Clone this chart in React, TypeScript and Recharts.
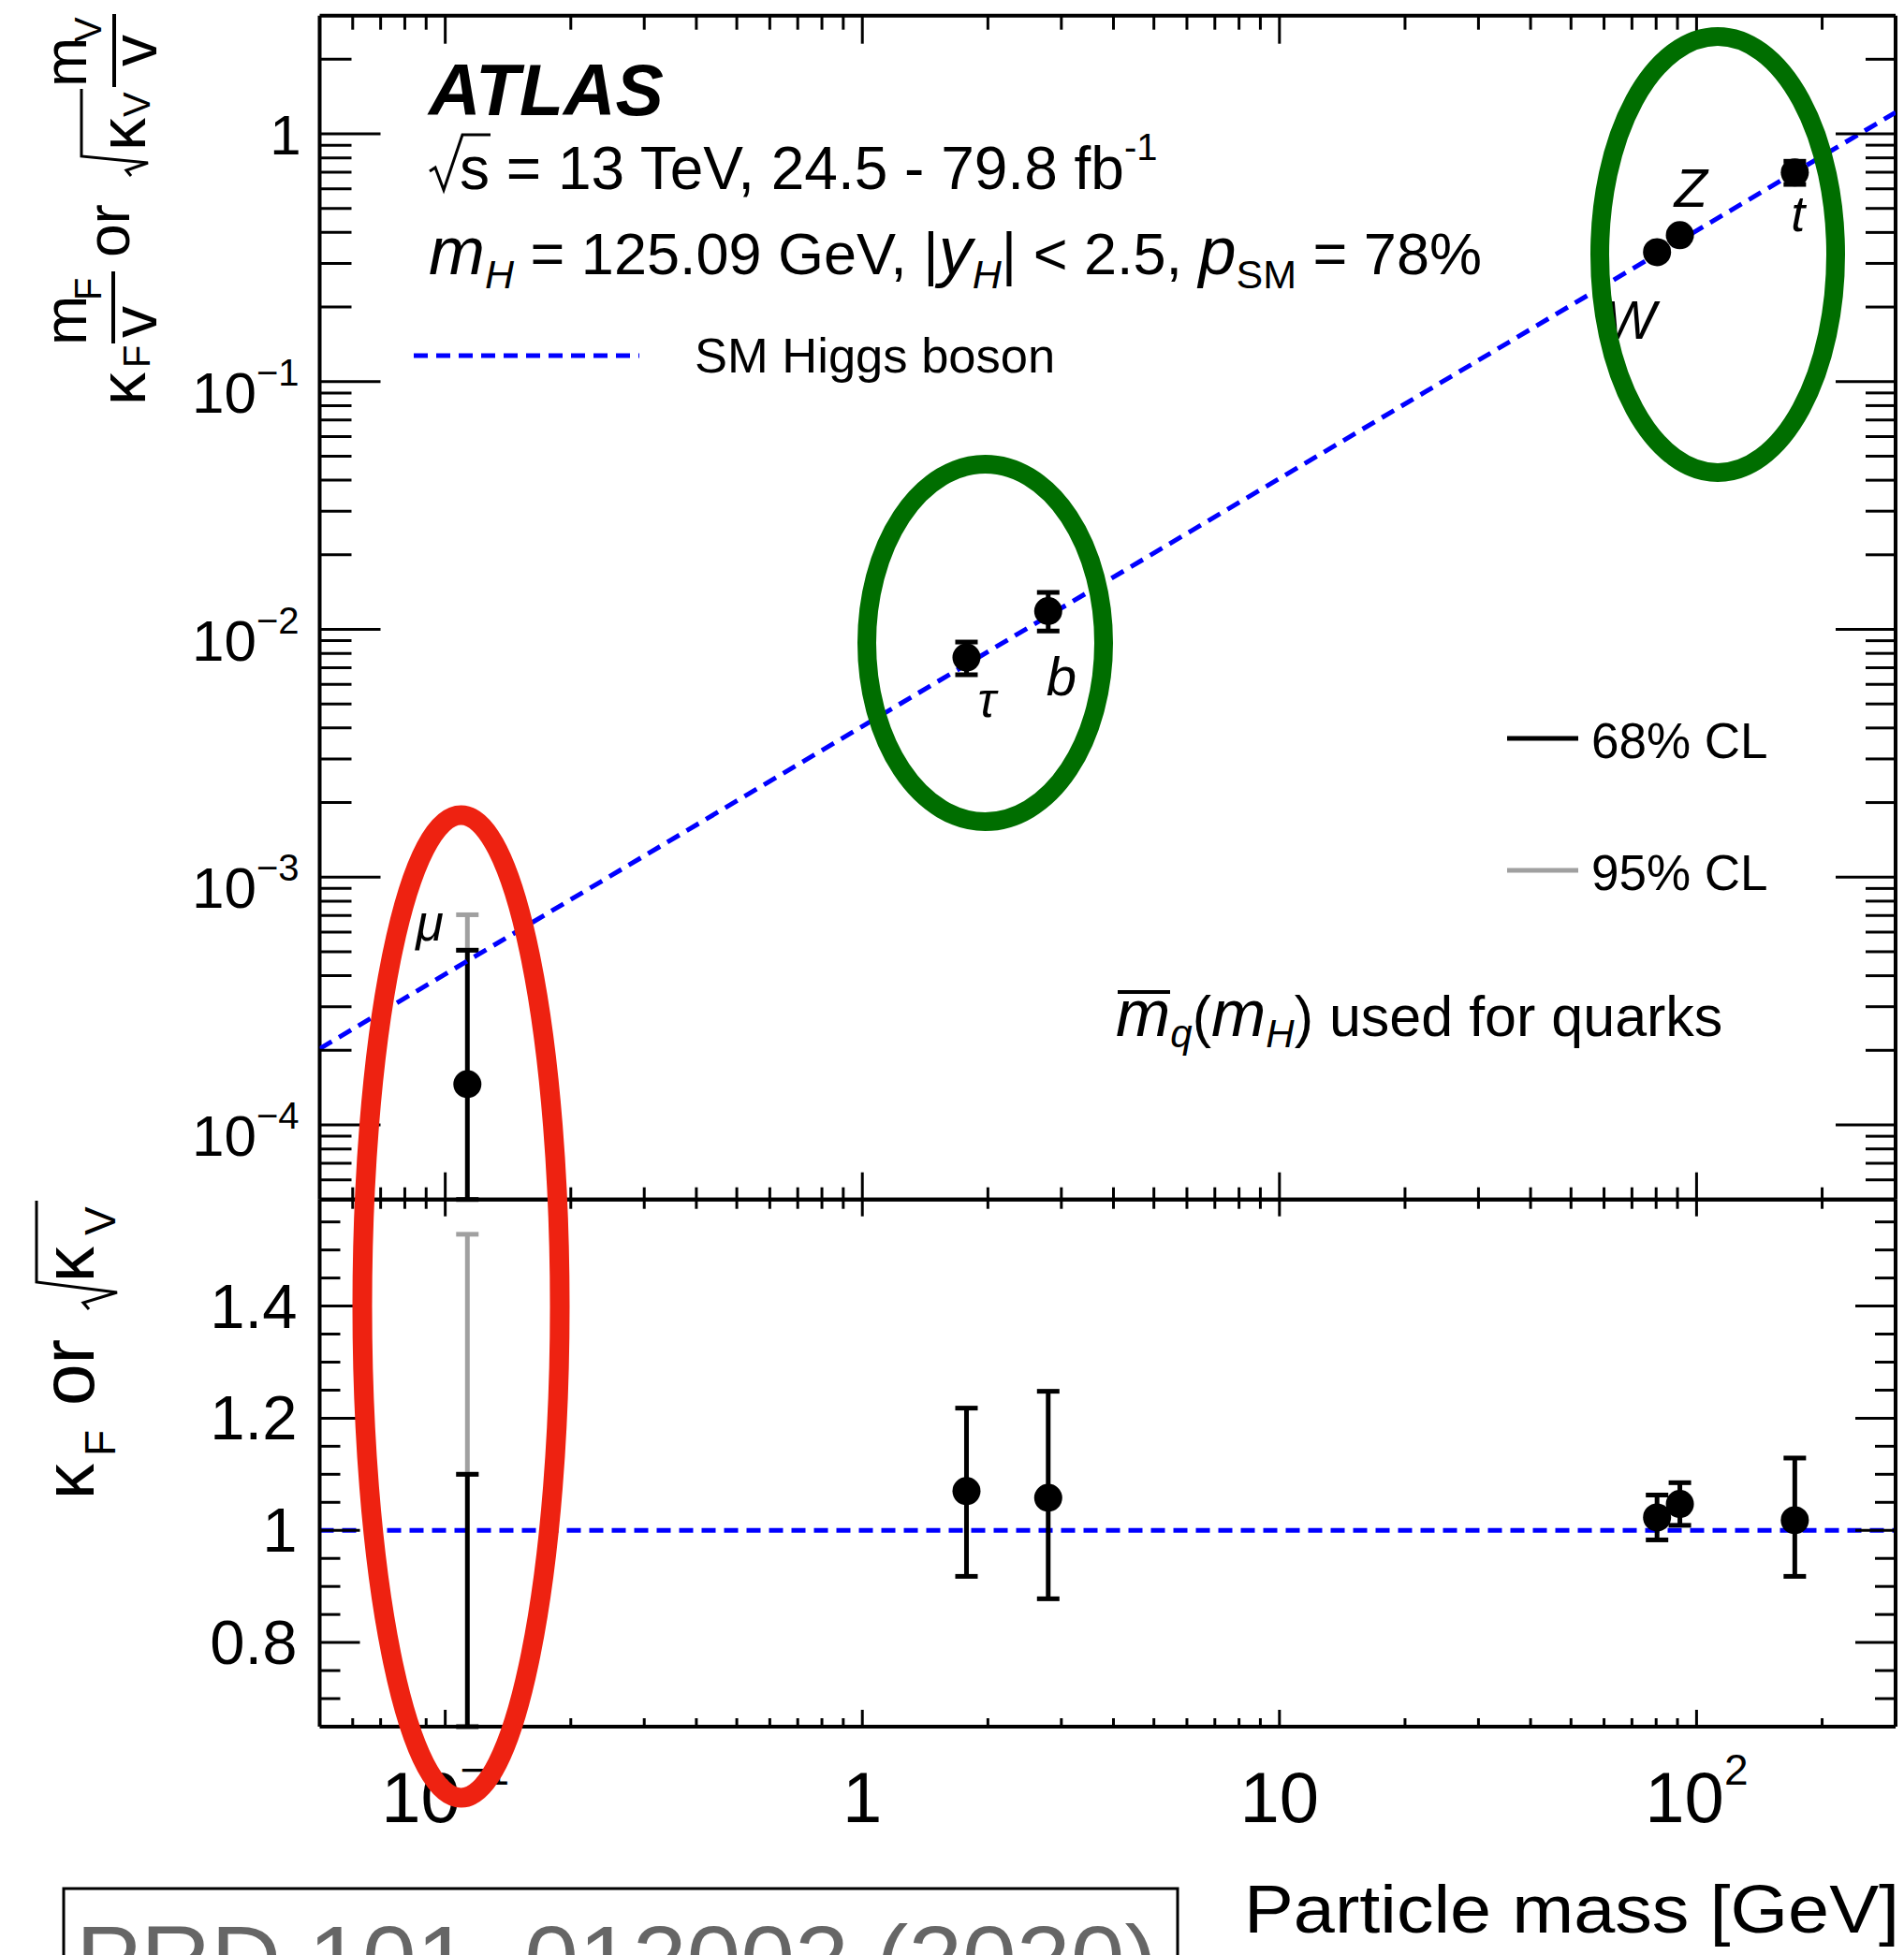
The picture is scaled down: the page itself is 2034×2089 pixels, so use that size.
import React from 'react';
import { ScatterChart, Scatter, XAxis, YAxis, ErrorBar, ReferenceLine } from 'recharts';

const FONT = '"Liberation Sans", Arial, Helvetica, sans-serif';
const BLUE = '#0000ff';
const GREY = '#a0a0a0';

// values
const particles = ['μ', 'τ', 'b', 'W', 'Z', 't'];
const masses = [0.113, 1.777, 2.79, 80.4, 91.2, 172];
const reduced = [1.46e-4, 7.7e-3, 1.185e-2, 0.333, 0.39, 0.698];
const reducedLo68 = [1.0e-5, 6.56e-3, 9.85e-3, 0.32, 0.376, 0.625];
const reducedHi68 = [5.07e-4, 8.89e-3, 1.41e-2, 0.346, 0.404, 0.775];
const kappa = [0.32, 1.07, 1.058, 1.023, 1.047, 1.018];
const kappaLo68 = [0.0, 0.918, 0.878, 0.983, 1.009, 0.918];
const kappaHi68 = [1.1, 1.218, 1.248, 1.063, 1.085, 1.129];
// 95% CL band is only shown for the muon
const muReducedHi95 = 7.05e-4;
const muKappaHi95 = 1.528;
// SM Higgs line (m / v)
const smMass = [0.05, 300];
const smReduced = [2.03e-4, 1.22];
const smKappa = 1;

// axes
const xDomain = [0.05, 300];
const yUpperDomain = [5e-5, 3];
const yLowerDomain = [0.65, 1.59];
const xMajor = [0.1, 1, 10, 100];
const xTickLabels = ['10^-1', '1', '10', '10^2'];
const xMinor = [0.06, 0.07, 0.08, 0.09, 0.2, 0.3, 0.4, 0.5, 0.6, 0.7, 0.8, 0.9, 2, 3, 4, 5, 6, 7, 8, 9, 20, 30, 40, 50, 60, 70, 80, 90, 200];
const yUpperMajor = [1e-4, 1e-3, 1e-2, 1e-1, 1];
const yUpperTickLabels = ['10^-4', '10^-3', '10^-2', '10^-1', '1'];
const yUpperMinor = [
  6e-5, 7e-5, 8e-5, 9e-5,
  2e-4, 3e-4, 4e-4, 5e-4, 6e-4, 7e-4, 8e-4, 9e-4,
  2e-3, 3e-3, 4e-3, 5e-3, 6e-3, 7e-3, 8e-3, 9e-3,
  0.02, 0.03, 0.04, 0.05, 0.06, 0.07, 0.08, 0.09,
  0.2, 0.3, 0.4, 0.5, 0.6, 0.7, 0.8, 0.9, 2,
];
const yLowerMajor = [0.8, 1, 1.2, 1.4];
const yLowerTickLabels = ['0.8', '1', '1.2', '1.4'];
const yLowerMinor = [0.7, 0.75, 0.85, 0.9, 0.95, 1.05, 1.1, 1.15, 1.25, 1.3, 1.35, 1.45, 1.5, 1.55];

// layout
const W = 2034;
const H = 2089;
const PLOT_LEFT = 341.5;
const PLOT_RIGHT = 2025;
const UPPER_TOP = 16.7;
const DIVIDER = 1281.7;
const LOWER_BOTTOM = 1845;
const AX = 1; // axis band thickness (recharts skips axes of size 0)

// label placement relative to the marker centre
const labelOffsets: Record<string, { dx: number; dy: number; size: number }> = {
  'μ': { dx: -55, dy: -153, size: 54 },
  'τ': { dx: 12, dy: 63, size: 52 },
  'b': { dx: -2, dy: 90, size: 58 },
  'W': { dx: -56, dy: 93, size: 58 },
  'Z': { dx: -6, dy: -30, size: 58 },
  't': { dx: -4, dy: 63, size: 54 },
};

// like the ROOT frame: bars stop at the frame, markers outside the frame are not drawn
function barRow(x: number, y: number, lo: number, hi: number, dom: number[], label = '') {
  const yc = Math.min(Math.max(y, dom[0]), dom[1]);
  const l = Math.max(lo, dom[0]);
  const h = Math.min(hi, dom[1]);
  return { x, y: yc, label, shown: y >= dom[0] && y <= dom[1], err: [yc - l, h - yc] };
}

const upperRows = masses.map((m, i) => barRow(m, reduced[i], reducedLo68[i], reducedHi68[i], yUpperDomain, particles[i]));
const lowerRows = masses.map((m, i) => barRow(m, kappa[i], kappaLo68[i], kappaHi68[i], yLowerDomain, particles[i]));
// grey part of the 95% interval sticking out above the 68% one
const muUpper95 = [barRow(masses[0], reducedHi68[0], reducedHi68[0], muReducedHi95, yUpperDomain)];
const muLower95 = [barRow(masses[0], kappaHi68[0], kappaHi68[0], muKappaHi95, yLowerDomain)];
const smRows = smMass.map((m, i) => ({ x: m, y: smReduced[i] }));

const frameLine = { stroke: '#000', strokeWidth: 4 };
const noShape = () => <g />;
const dot = (p: any) => (p.payload.shown ? <circle cx={p.cx} cy={p.cy} r={15} fill="#000" /> : <g />);

const findIdx = (list: number[], v: number) => list.findIndex((m) => Math.abs(v / m - 1) < 1e-6);

function powerLabel(label: string, x: number, y: number, o: any) {
  const [base, exp] = label.split('^');
  return (
    <text x={x} y={y} fontSize={o.size} textAnchor={o.anchor} fontFamily={FONT} fill="#000">
      {base}
      {exp !== undefined && (
        <tspan dy={o.supDy} fontSize={o.supSize}>
          {exp.replace('-', '−')}
        </tspan>
      )}
    </text>
  );
}

type Side = 'top' | 'bottom' | 'left' | 'right';

function makeTick(side: Side, major: number[], majorLen: number, minorLen: number, label?: (i: number, x: number, y: number) => React.ReactNode) {
  return (props: any) => {
    const { x, y, payload } = props;
    const idx = findIdx(major, payload.value);
    const len = idx >= 0 ? majorLen : minorLen;
    let x2 = x;
    let y2 = y;
    if (side === 'bottom') y2 = y - len;
    if (side === 'top') y2 = y + len;
    if (side === 'left') x2 = x + len;
    if (side === 'right') x2 = x - len;
    return (
      <g>
        <line x1={x} y1={y} x2={x2} y2={y2} stroke="#000" strokeWidth={3} />
        {idx >= 0 && label ? label(idx, x, y) : null}
      </g>
    );
  };
}

const xTicks = [...xMajor, ...xMinor];
const yUpperTicks = [...yUpperMajor, ...yUpperMinor];
const yLowerTicks = [...yLowerMajor, ...yLowerMinor];

const upperYLabel = (i: number, x: number, y: number) => {
  const l = yUpperTickLabels[i];
  if (!l.includes('^')) return powerLabel(l, x - 20, y + 22, { size: 60, anchor: 'end' });
  return powerLabel(l, x - 22, y + 33, { size: 62, anchor: 'end', supSize: 40, supDy: -29 });
};
const lowerYLabel = (i: number, x: number, y: number) =>
  powerLabel(yLowerTickLabels[i], x - 24, y + 23, { size: 67, anchor: 'end' });
const lowerXLabel = (i: number, x: number, y: number) =>
  powerLabel(xTickLabels[i], x, y + 102, { size: 76, anchor: 'middle', supSize: 46, supDy: -40 });

const axisCommon = {
  type: 'number' as const,
  allowDataOverflow: true,
  interval: 0 as const,
  tickSize: 0,
  tickMargin: 0,
  tickLine: false,
  axisLine: frameLine,
};

function UpperPanel() {
  return (
    <ScatterChart
      width={W}
      height={H}
      margin={{ top: UPPER_TOP - AX, bottom: H - DIVIDER - AX, left: PLOT_LEFT - AX, right: W - PLOT_RIGHT - AX }}
    >
      <XAxis xAxisId="b" dataKey="x" orientation="bottom" scale="log" domain={xDomain} ticks={xTicks} height={AX}
        tick={makeTick('bottom', xMajor, 29, 13)} {...axisCommon} />
      <XAxis xAxisId="t" dataKey="x" orientation="top" scale="log" domain={xDomain} ticks={xTicks} height={AX}
        tick={makeTick('top', xMajor, 30, 15)} {...axisCommon} />
      <YAxis yAxisId="l" dataKey="y" orientation="left" scale="log" domain={yUpperDomain} ticks={yUpperTicks} width={AX}
        tick={makeTick('left', yUpperMajor, 65, 34, upperYLabel)} {...axisCommon} />
      <YAxis yAxisId="r" dataKey="y" orientation="right" scale="log" domain={yUpperDomain} ticks={yUpperTicks} width={AX}
        tick={makeTick('right', yUpperMajor, 64, 32)} {...axisCommon} />

      <Scatter xAxisId="t" yAxisId="r" data={smRows} shape={noShape} isAnimationActive={false} />
      <Scatter xAxisId="b" yAxisId="l" data={smRows} shape={noShape} isAnimationActive={false}
        line={{ stroke: BLUE, strokeWidth: 5, strokeDasharray: '15 9' }} />
      <Scatter xAxisId="b" yAxisId="l" data={muUpper95} shape={noShape} isAnimationActive={false}>
        <ErrorBar dataKey="err" direction="y" width={12} stroke={GREY} strokeWidth={5} isAnimationActive={false} />
      </Scatter>
      <Scatter xAxisId="b" yAxisId="l" data={upperRows} shape={dot} isAnimationActive={false}>
        <ErrorBar dataKey="err" direction="y" width={12} stroke="#000" strokeWidth={5} isAnimationActive={false} />
      </Scatter>
      <Scatter xAxisId="b" yAxisId="l" data={upperRows} isAnimationActive={false}
        shape={(p: any) => {
          const o = labelOffsets[p.payload.label];
          return (
            <text x={p.cx + o.dx} y={p.cy + o.dy} fontSize={o.size} fontStyle="italic" fontFamily={FONT} fill="#000">
              {p.payload.label}
            </text>
          );
        }}
      />
    </ScatterChart>
  );
}

function LowerPanel() {
  return (
    <ScatterChart
      width={W}
      height={H}
      margin={{ top: DIVIDER - AX, bottom: H - LOWER_BOTTOM - AX, left: PLOT_LEFT - AX, right: W - PLOT_RIGHT - AX }}
    >
      <XAxis xAxisId="b" dataKey="x" orientation="bottom" scale="log" domain={xDomain} ticks={xTicks} height={AX}
        tick={makeTick('bottom', xMajor, 18, 9, lowerXLabel)} {...axisCommon} />
      <XAxis xAxisId="t" dataKey="x" orientation="top" scale="log" domain={xDomain} ticks={xTicks} height={AX}
        tick={makeTick('top', xMajor, 18, 10)} {...axisCommon} />
      <YAxis yAxisId="l" dataKey="y" orientation="left" domain={yLowerDomain} ticks={yLowerTicks} width={AX}
        tick={makeTick('left', yLowerMajor, 43, 22, lowerYLabel)} {...axisCommon} />
      <YAxis yAxisId="r" dataKey="y" orientation="right" domain={yLowerDomain} ticks={yLowerTicks} width={AX}
        tick={makeTick('right', yLowerMajor, 43, 22)} {...axisCommon} />

      <Scatter xAxisId="t" yAxisId="r" data={lowerRows} shape={noShape} isAnimationActive={false} />
      <ReferenceLine xAxisId="b" yAxisId="l" y={smKappa} stroke={BLUE} strokeWidth={5} strokeDasharray="15 9" />
      <Scatter xAxisId="b" yAxisId="l" data={muLower95} shape={noShape} isAnimationActive={false}>
        <ErrorBar dataKey="err" direction="y" width={12} stroke={GREY} strokeWidth={5} isAnimationActive={false} />
      </Scatter>
      <Scatter xAxisId="b" yAxisId="l" data={lowerRows} shape={dot} isAnimationActive={false}>
        <ErrorBar dataKey="err" direction="y" width={12} stroke="#000" strokeWidth={5} isAnimationActive={false} />
      </Scatter>
    </ScatterChart>
  );
}

function Overlay() {
  const t = { fontFamily: FONT, fill: '#000' };
  return (
    <svg width={W} height={H} style={{ position: 'absolute', left: 0, top: 0, pointerEvents: 'none' }}>
      {/* upper y title */}
      <g transform="translate(0,433) rotate(-90)" {...t}>
        <text x={0} y={155} fontSize={70}>κ</text>
        <text x={40} y={160} fontSize={40}>F</text>
        <line x1={66} y1={121} x2={143} y2={121} stroke="#000" strokeWidth={4} />
        <text x={64} y={92} fontSize={64}>m</text>
        <text x={112} y={108} fontSize={40}>F</text>
        <text x={72} y={167} fontSize={68}>v</text>
        <text x={158} y={138} fontSize={64}>or</text>
        <path d="M245,140 L251,135 L259,158 L266,87 L338,87" fill="none" stroke="#000" strokeWidth={3} />
        <text x={272} y={155} fontSize={70}>κ</text>
        <text x={308} y={160} fontSize={40}>V</text>
        <line x1={340} y1={122} x2={418} y2={122} stroke="#000" strokeWidth={4} />
        <text x={340} y={92} fontSize={64}>m</text>
        <text x={388} y={108} fontSize={40}>V</text>
        <text x={362} y={167} fontSize={68}>v</text>
      </g>

      {/* lower y title */}
      <g transform="translate(0,1602) rotate(-90)" {...t}>
        <text x={0} y={100} fontSize={76}>κ</text>
        <text x={46} y={123} fontSize={46}>F</text>
        <text x={100} y={100} fontSize={80}>or</text>
        <path d="M203,95 L210,89 L221,125 L232,39 L319,39" fill="none" stroke="#000" strokeWidth={3} />
        <text x={232} y={100} fontSize={76}>κ</text>
        <text x={282} y={123} fontSize={46}>V</text>
      </g>

      {/* header */}
      <text x={458} y={123} fontSize={77} fontWeight="bold" fontStyle="italic" {...t}>ATLAS</text>
      <path d="M459,183 L465,179 L474,203 L494,144 L524,144" fill="none" stroke="#000" strokeWidth={3} />
      <text x={491} y={202} fontSize={64} {...t}>
        s = 13 TeV, 24.5 - 79.8 fb<tspan dy={-31} fontSize={40}>-1</tspan>
      </text>
      <text x={458} y={293} fontSize={63} {...t}>
        <tspan fontStyle="italic" fontSize={72}>m</tspan>
        <tspan dy={15} fontSize={43} fontStyle="italic">H</tspan>
        <tspan dy={-15}> = 125.09 GeV, |</tspan>
        <tspan fontStyle="italic" fontSize={72}>y</tspan>
        <tspan dy={15} fontSize={43} fontStyle="italic">H</tspan>
        <tspan dy={-15}>| &lt; 2.5, </tspan>
        <tspan fontStyle="italic" fontSize={72}>p</tspan>
        <tspan dy={15} fontSize={43}>SM</tspan>
        <tspan dy={-15}> = 78%</tspan>
      </text>

      {/* legends */}
      <line x1={442} y1={380} x2={683} y2={380} stroke={BLUE} strokeWidth={5} strokeDasharray="15 9" />
      <text x={742} y={398} fontSize={52.5} {...t}>SM Higgs boson</text>
      <line x1={1610} y1={789} x2={1686} y2={789} stroke="#000" strokeWidth={5} />
      <text x={1700} y={810} fontSize={53} {...t}>68% CL</text>
      <line x1={1610} y1={930} x2={1686} y2={930} stroke={GREY} strokeWidth={5} />
      <text x={1700} y={951} fontSize={53} {...t}>95% CL</text>

      <line x1={1194} y1={1060} x2={1250} y2={1060} stroke="#000" strokeWidth={4} />
      <text x={1192} y={1107} fontSize={61} {...t}>
        <tspan fontStyle="italic" fontSize={70}>m</tspan>
        <tspan dy={12} fontSize={42} fontStyle="italic">q</tspan>
        <tspan dy={-12}>(</tspan>
        <tspan fontStyle="italic" fontSize={70}>m</tspan>
        <tspan dy={12} fontSize={42} fontStyle="italic">H</tspan>
        <tspan dy={-12}>) used for quarks</tspan>
      </text>

      {/* x title and reference box */}
      <text x={1329} y={2065} fontSize={72} textLength={700} lengthAdjust="spacingAndGlyphs" {...t}>
        Particle mass [GeV]
      </text>
      <rect x={68} y={2018} width={1190} height={140} fill="#fff" stroke="#000" strokeWidth={3} />
      <text x={81} y={2128} fontSize={100} textLength={1155} lengthAdjust="spacingAndGlyphs" fontFamily={FONT} fill="#666">
        PRD 101, 012002 (2020)
      </text>

      {/* hand-drawn highlight ellipses */}
      <ellipse cx={1052.5} cy={687} rx={126.5} ry={191} fill="none" stroke="#006e00" strokeWidth={20} />
      <ellipse cx={1835} cy={272} rx={126} ry={233} fill="none" stroke="#006e00" strokeWidth={20} />
      <ellipse cx={492.5} cy={1396} rx={105.5} ry={525} fill="none" stroke="#ee2211" strokeWidth={21} />
    </svg>
  );
}

export default function App() {
  return (
    <div style={{ position: 'absolute', left: 0, top: 0, width: W, height: H, background: '#fff', overflow: 'hidden' }}>
      <div style={{ position: 'absolute', left: 0, top: 0 }}>
        <UpperPanel />
      </div>
      <div style={{ position: 'absolute', left: 0, top: 0 }}>
        <LowerPanel />
      </div>
      <Overlay />
    </div>
  );
}
